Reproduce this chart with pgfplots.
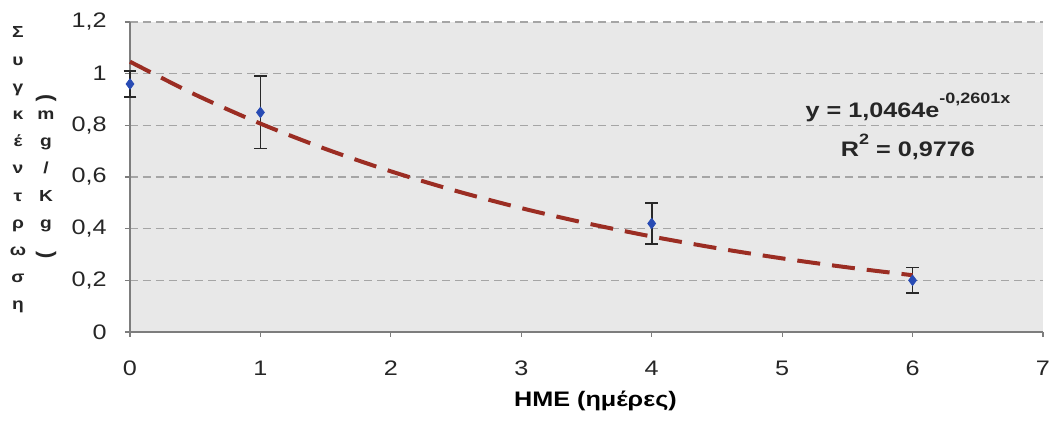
\documentclass[border=0pt]{standalone}
\usepackage{fontspec}
\setmainfont[FakeStretch=1.2]{Liberation Sans}
\newfontfamily\plainsans{Liberation Sans}
\usepackage{pgfplots}
\pgfplotsset{compat=1.18}

\definecolor{plotbg}{RGB}{232,232,232}
\definecolor{gridgray}{RGB}{165,165,165}
\definecolor{trendred}{RGB}{155,45,35}
\definecolor{markblue}{RGB}{40,75,180}
\definecolor{barblack}{RGB}{40,40,40}
\definecolor{axisgray}{RGB}{125,125,125}

\begin{document}
\begin{tikzpicture}
\useasboundingbox (-65pt,-48pt) rectangle (460pt,166pt);
\begin{axis}[
  at={(0,0)}, anchor=south west,
  scale only axis, width=456.5pt, height=155pt,
  xmin=0, xmax=7, ymin=0, ymax=1.2,
  axis lines=left,
  axis line style={-, draw=axisgray, line width=0.8pt},
  xtick={0,1,2,3,4,5,6,7},
  ytick={0,0.2,0.4,0.6,0.8,1,1.2},
  tick align=outside, major tick length=2.5pt,
  tick style={axisgray, line width=0.6pt},
  ymajorgrids,
  grid style={gridgray, line width=0.6pt, dash pattern=on 4pt off 2.5pt},
  axis background/.style={fill=plotbg},
  clip=false,
  /pgf/number format/use comma,
  /pgf/number format/fixed,
  /pgf/number format/precision=1,
  /pgf/number format/1000 sep={},
  /pgf/number format/assume math mode=true,
  ticklabel style={font=\fontsize{10.5}{12}\selectfont, text=black!85},
  yticklabel style={anchor=east, inner sep=0pt, xshift=-9pt},
  xticklabel style={anchor=base, inner sep=0pt, yshift=-19.5pt},
  xlabel={HME (ημέρες)},
  xlabel style={at={(axis description cs:0.5,0)}, anchor=base, inner sep=0pt,
    xshift=4.5pt, yshift=-37.5pt, font=\bfseries\fontsize{10.5}{12}\selectfont},
]
% measured concentrations with their spread
\addplot[only marks, mark=diamond*, mark size=2.6pt,
  mark options={fill=markblue, draw=markblue},
  error bars/.cd, y dir=both, y explicit,
  error bar style={barblack, line width=0.8pt},
  error mark options={barblack, line width=0.8pt, mark size=3.2pt, rotate=90}]
  coordinates {
    (0,0.96) +- (0,0.05)
    (1,0.85) +- (0,0.14)
    (4,0.42) +- (0,0.08)
    (6,0.20) +- (0,0.05)
  };
% exponential trend line y = 1.0464 exp(-0.2601 x)
\addplot[trendred, line width=2pt, smooth, dash pattern=on 11.5pt off 6pt]
  coordinates {
    (0,1.0464) (0.5,0.9188) (1,0.8067) (1.5,0.7084) (2,0.6220)
    (2.5,0.5461) (3,0.4795) (3.5,0.4211) (4,0.3697) (4.5,0.3246)
    (5,0.2850) (5.5,0.2503) (6,0.2198)
  };
\node[anchor=base, font=\bfseries\fontsize{10.5}{12}\selectfont, text=black!85]
  at (axis cs:5.965,0.832)
  {y = 1,0464e\raisebox{7pt}{\fontsize{7.5}{8}\selectfont -0,2601x}};
\node[anchor=base, font=\bfseries\fontsize{10.5}{12}\selectfont, text=black!85]
  at (axis cs:5.965,0.681)
  {R\raisebox{6pt}{\fontsize{7.5}{8}\selectfont 2} = 0,9776};
\end{axis}
% stacked vertical axis title
\node[anchor=base, inner sep=0pt, text=black!85,
  font=\bfseries\fontsize{8}{13.6}\selectfont] at (-56pt,147pt)
  {\begin{tabular}[t]{@{}c@{}}
   Σ\\ υ\\ γ\\ κ\\ έ\\ ν\\ τ\\ ρ\\ ω\\ σ\\ η
   \end{tabular}};
\node[anchor=base, inner sep=0pt, text=black!85,
  font=\bfseries\fontsize{8}{13.6}\selectfont] at (-42pt,147pt)
  {\begin{tabular}[t]{@{}c@{}}
   \strut\\ \strut\\ \strut\\
   m\\ g\\ /\\ K\\ g\\
   \strut\\ \strut\\ \strut
   \end{tabular}};
\node[rotate=-90, inner sep=0pt, text=black!85,
  font=\plainsans\bfseries\fontsize{11}{12}\selectfont] at (-42pt,117pt) {(};
\node[rotate=-90, inner sep=0pt, text=black!85,
  font=\plainsans\bfseries\fontsize{11}{12}\selectfont] at (-42pt,38.5pt) {)};
\end{tikzpicture}
\end{document}
